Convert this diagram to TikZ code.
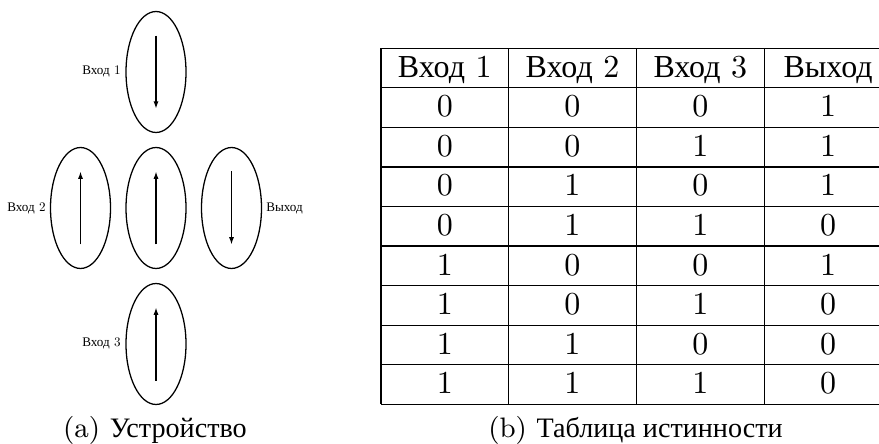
\documentclass[tikz,border=0pt]{standalone}
\usepackage{fontspec}
\newfontfamily\cyr{Liberation Serif}
\usetikzlibrary{shapes.geometric,arrows.meta}
\begin{document}
\begin{tikzpicture}[x=0.3125pt,y=-0.3125pt,
  cellell/.style={draw, ellipse, line width=0.4pt, minimum width=18.75pt, minimum height=37.8pt, inner sep=0pt},
  spin/.style={-{Latex[length=2.3pt,width=1.6pt]}, line width=0.4pt},
  lbltxt/.style={font=\fontsize{10}{12}\selectfont, scale=0.41, inner sep=0pt},
  tabtxt/.style={font=\fontsize{10}{12}\selectfont, anchor=base, inner sep=0pt},
  captxt/.style={font=\fontsize{8.8}{11}\selectfont, anchor=base, inner sep=0pt},
  tabrule/.style={line width=0.4pt}]
\useasboundingbox (0,0) rectangle (879,444);
% device
\node[cellell] (in1) at (156,72) {};
\node[cellell] (in2) at (80.5,208) {};
\node[cellell] (mid) at (156,208) {};
\node[cellell] (out) at (231.5,208) {};
\node[cellell] (in3) at (156,344) {};
\coordinate (in1t) at (156,35.7); \coordinate (in1b) at (156,108.7);
\coordinate (in2t) at (80.5,171.5); \coordinate (in2b) at (80.5,244.5);
\coordinate (midt) at (156,171.5); \coordinate (midb) at (156,244.5);
\coordinate (outt) at (231.5,171.5); \coordinate (outb) at (231.5,244.5);
\coordinate (in3t) at (156,307.5); \coordinate (in3b) at (156,380.5);
\draw[spin] (in1t) -- (in1b);
\draw[spin] (in2b) -- (in2t);
\draw[spin] (midb) -- (midt);
\draw[spin] (outt) -- (outb);
\draw[spin] (in3b) -- (in3t);
\node[lbltxt, anchor=east] (l1) at (121,71) {{\cyr Вход} 1};
\node[lbltxt, anchor=east] (l2) at (46,208) {{\cyr Вход} 2};
\node[lbltxt, anchor=west] (l4) at (266,208) {{\cyr Выход}};
\node[lbltxt, anchor=east] (l3) at (121,343) {{\cyr Вход} 3};
\node[captxt] (capa) at (155,437) {(a) {\cyr Устройство}};
% table
\foreach \x in {381,508.5,636.3,764.3,892} \draw[tabrule] (\x,48.3) -- (\x,404.3);
\foreach \i in {0,...,9} \draw[tabrule] (381,48.3+39.56*\i) -- (892,48.3+39.56*\i);
\foreach \t [count=\c] in {{{\cyr Вход} 1},{{\cyr Вход} 2},{{\cyr Вход} 3},{{\cyr Выход}}}
  \node[tabtxt] (h-\c) at (381+127.75*\c-63.9,77.3) {\t};
\foreach \a/\b/\cc/\d [count=\r] in {0/0/0/1,0/0/1/1,0/1/0/1,0/1/1/0,1/0/0/1,1/0/1/0,1/1/0/0,1/1/1/0}{
  \node[tabtxt] (r\r-1) at (444.75,77.3+39.56*\r) {\a};
  \node[tabtxt] (r\r-2) at (572.4,77.3+39.56*\r) {\b};
  \node[tabtxt] (r\r-3) at (700.3,77.3+39.56*\r) {\cc};
  \node[tabtxt] (r\r-4) at (828.2,77.3+39.56*\r) {\d};
}
\node[captxt] (capb) at (635.5,437) {(b) {\cyr Таблица истинности}};
\end{tikzpicture}
\end{document}
